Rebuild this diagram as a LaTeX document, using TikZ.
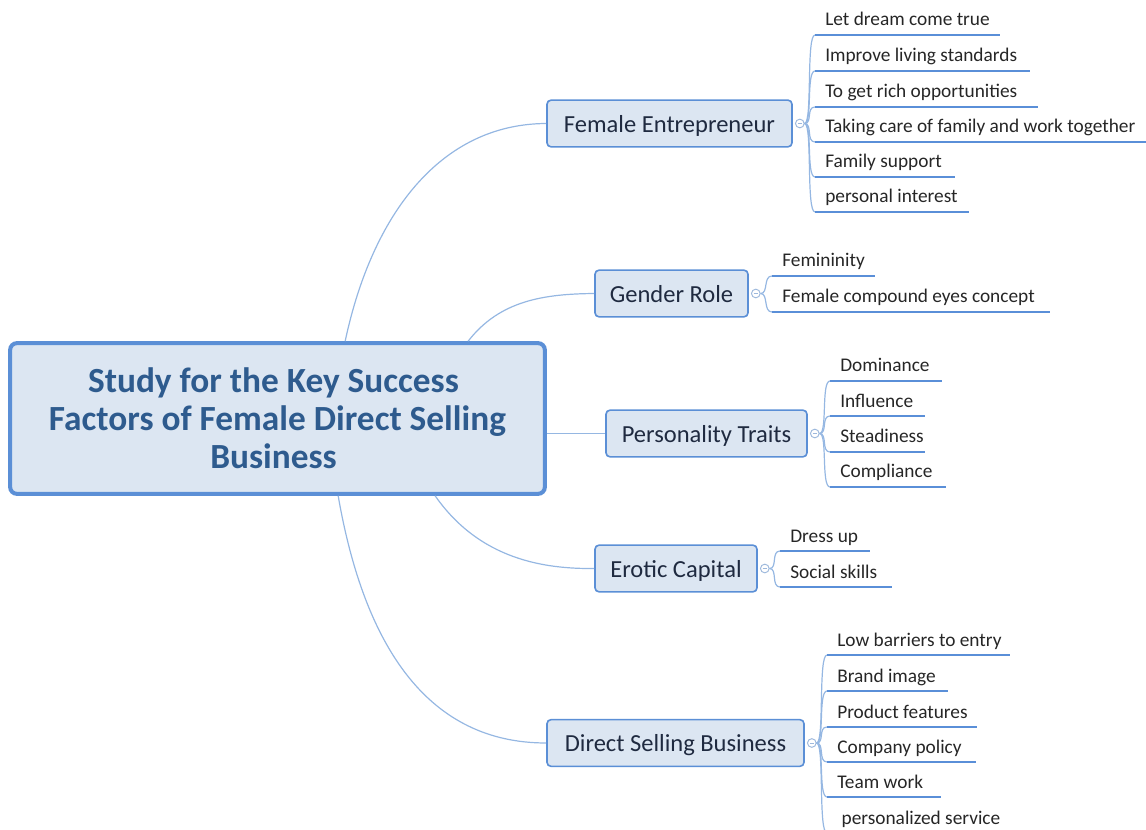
\documentclass[tikz,border=0pt]{standalone}
\usepackage{fontspec}
\setmainfont{Carlito}
\usetikzlibrary{calc}
\definecolor{cfill}{HTML}{DCE6F2}
\definecolor{cborder}{HTML}{5B8FD6}
\definecolor{ctext}{HTML}{2E5B8E}
\definecolor{btext}{HTML}{1F2A40}
\definecolor{connc}{HTML}{95B7E2}
\definecolor{ulc}{HTML}{5A8FD8}
\definecolor{circc}{HTML}{9DB8DC}
\tikzset{
  central/.style={draw=cborder, line width=3pt, fill=cfill, rounded corners=5pt,
    font=\fontsize{26.5}{28.5}\selectfont\bfseries, text=ctext, align=center, inner sep=0pt},
  branch/.style={draw=cborder, line width=1.2pt, fill=cfill, rounded corners=3pt,
    font=\fontsize{18.4}{20}\selectfont, text=btext, inner sep=0pt, minimum height=35pt,
    text height=16pt, text depth=3pt},
  leaf/.style={font=\fontsize{14.5}{16}\selectfont, text=black!85, inner sep=0pt},
  conn/.style={draw=connc, line width=0.9pt},
  uline/.style={draw=ulc, line width=1.7pt},
  collapse/.style={circle, draw=circc, line width=0.7pt, fill=white, minimum size=6.5pt, inner sep=0pt,
    path picture={\draw[circc, line width=0.6pt] ([xshift=-1.6pt]path picture bounding box.center) -- ([xshift=1.6pt]path picture bounding box.center);}}
}
\newcommand{\leafitem}[6]{%
  \coordinate (#1s) at (#3,#5);
  \coordinate (#1e) at (#4,#5);
  \draw[conn] (#2.east) .. controls ($(#2.east)+(8,0)$) and ($(#1s)+(-9,0)$) .. (#1s);
  \draw[uline] (#1s) -- (#1e);
  \node[leaf, anchor=base west] (#1) at ($(#1s)+(10,-9)$) {#6};
}
\newcommand{\rpad}{\hspace*{6pt}}
\begin{document}
\begin{tikzpicture}[x=0.75pt, y=-0.75pt]
\useasboundingbox (0,0) rectangle (1146,830);
\clip (0,0) rectangle (1146,830);

% central
\node[central, minimum width=401pt, minimum height=113pt] (c) at (277.5,418.5)
  {Study for the Key Success\rpad\\Factors of Female Direct Selling\rpad\\Business\rpad};

% branches
\node[branch, minimum width=183.75pt] (fe) at (669.5,123.5) {Female Entrepreneur};
\node[branch, minimum width=114.75pt] (gr) at (671.5,293.5) {Gender Role};
\node[branch, minimum width=150.75pt] (pt) at (706.5,433.5) {Personality Traits};
\node[branch, minimum width=121.5pt] (ec) at (676,568.5) {Erotic Capital};
\node[branch, minimum width=192.75pt] (ds) at (675.5,743) {Direct Selling Business};

% central connectors
\coordinate (cfe) at ($(c.north west)+(337,0)$);
\coordinate (cgr) at ($(c.north west)+(460,0)$);
\coordinate (cec) at ($(c.south west)+(427,0)$);
\coordinate (cds) at ($(c.south west)+(330,0)$);
\draw[conn] (cfe) .. controls (372,215) and (440,124) .. (fe.west);
\draw[conn] (cgr) .. controls (500,300) and (545,294) .. (gr.west);
\draw[conn] (c.east |- pt.west) -- (pt.west);
\draw[conn] (cec) .. controls (480,560) and (545,569) .. (ec.west);
\draw[conn] (cds) .. controls (365,650) and (430,743) .. (ds.west);

% collapse circles
\node[collapse] (fec) at ($(fe.east)+(7,0)$) {};
\node[collapse] (grc) at ($(gr.east)+(7,0)$) {};
\node[collapse] (ptc) at ($(pt.east)+(7,0)$) {};
\node[collapse] (ecc) at ($(ec.east)+(7,0)$) {};
\node[collapse] (dsc) at ($(ds.east)+(7,0)$) {};

% Female Entrepreneur leaves
\leafitem{fe1}{fec}{815}{1000}{35}{Let dream come true}
\leafitem{fe2}{fec}{815}{1030}{71}{Improve living standards}
\leafitem{fe3}{fec}{815}{1038}{107}{To get rich opportunities}
\leafitem{fe4}{fec}{815}{1146}{142}{Taking care of family and work together}
\leafitem{fe5}{fec}{815}{955}{177}{Family support}
\leafitem{fe6}{fec}{815}{969}{212}{personal interest}

% Gender Role leaves
\leafitem{gr1}{grc}{772}{875}{276}{Femininity}
\leafitem{gr2}{grc}{772}{1050}{312}{Female compound eyes concept}

% Personality Traits leaves
\leafitem{pt1}{ptc}{830}{942}{381}{Dominance}
\leafitem{pt2}{ptc}{830}{925}{416}{Influence}
\leafitem{pt3}{ptc}{830}{925}{452}{Steadiness}
\leafitem{pt4}{ptc}{830}{946}{487}{Compliance}

% Erotic Capital leaves
\leafitem{ec1}{ecc}{780}{870}{551}{Dress up}
\leafitem{ec2}{ecc}{780}{892}{587}{Social skills}

% Direct Selling Business leaves
\leafitem{ds1}{dsc}{827}{1010}{655}{Low barriers to entry}
\leafitem{ds2}{dsc}{827}{948}{691}{Brand image}
\leafitem{ds3}{dsc}{827}{977}{727}{Product features}
\leafitem{ds4}{dsc}{827}{976}{762}{Company policy}
\leafitem{ds5}{dsc}{827}{941}{797}{Team work}
\leafitem{ds6}{dsc}{827}{1010}{833}{\ personalized service}
\end{tikzpicture}
\end{document}
